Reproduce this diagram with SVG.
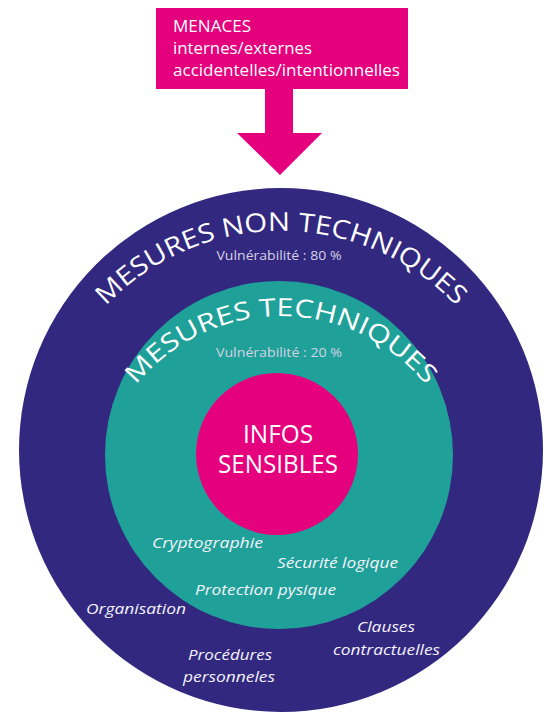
<svg xmlns="http://www.w3.org/2000/svg" xmlns:xlink="http://www.w3.org/1999/xlink" width="551" height="715" viewBox="0 0 551 715">
<style>
.arc{font-family:"Open Sans","Liberation Sans",sans-serif;fill:#ffffff;font-weight:500;}
.vul{font-family:"Open Sans","Liberation Sans",sans-serif;font-size:12px;fill:#d6d2e4;text-anchor:middle;}
.lbl{font-family:"Open Sans","Liberation Sans",sans-serif;font-style:italic;font-size:15px;fill:#f4f2fa;}
.hdr{font-family:"Open Sans","Liberation Sans",sans-serif;font-size:16px;fill:#ffffff;}
.core{font-family:"Open Sans","Liberation Sans",sans-serif;font-size:26px;fill:#ffffff;text-anchor:middle;}
</style>
<defs>
<path id="arcOuter" d="M 47.2 410.4 A 242 242 0 0 1 514.8 410.4"/>
<path id="arcInner" d="M 100.4 454.6 A 187 187 0 0 1 461.6 454.6"/>
</defs>
<rect width="551" height="715" fill="#ffffff"/>
<g id="outer">
<circle cx="281" cy="450" r="262" fill="#32287F"/>
<text class="arc" font-size="26"><textPath xlink:href="#arcOuter" startOffset="50%" text-anchor="middle" textLength="392" lengthAdjust="spacingAndGlyphs">MESURES NON TECHNIQUES</textPath></text>
<text class="vul" x="279" y="260" textLength="125" lengthAdjust="spacingAndGlyphs">Vulnérabilité : 80 %</text>
<text class="lbl" x="86" y="614" textLength="100" lengthAdjust="spacingAndGlyphs">Organisation</text>
<text class="lbl" x="188" y="660" textLength="84" lengthAdjust="spacingAndGlyphs">Procédures</text>
<text class="lbl" x="183" y="682" textLength="92" lengthAdjust="spacingAndGlyphs">personneles</text>
<text class="lbl" x="357" y="632" textLength="58" lengthAdjust="spacingAndGlyphs">Clauses</text>
<text class="lbl" x="333" y="655" textLength="107" lengthAdjust="spacingAndGlyphs">contractuelles</text>
</g>
<g id="technical">
<circle cx="279" cy="455" r="174" fill="#1FA199"/>
<text class="arc" font-size="25"><textPath xlink:href="#arcInner" startOffset="50%" text-anchor="middle" textLength="332" lengthAdjust="spacingAndGlyphs">MESURES TECHNIQUES</textPath></text>
<text class="vul" x="279" y="357" textLength="126" lengthAdjust="spacingAndGlyphs">Vulnérabilité : 20 %</text>
<text class="lbl" x="152" y="548" textLength="111" lengthAdjust="spacingAndGlyphs">Cryptographie</text>
<text class="lbl" x="277" y="568" textLength="121" lengthAdjust="spacingAndGlyphs">Sécurité logique</text>
<text class="lbl" x="195" y="595" textLength="141" lengthAdjust="spacingAndGlyphs">Protection pysique</text>
</g>
<g id="core">
<circle cx="277" cy="454" r="81" fill="#E5007D"/>
<text class="core" x="278" y="443" textLength="70" lengthAdjust="spacingAndGlyphs">INFOS</text>
<text class="core" x="278" y="473" textLength="120" lengthAdjust="spacingAndGlyphs">SENSIBLES</text>
</g>
<g id="threats">
<rect x="156" y="8" width="252" height="81" fill="#E5007D"/>
<text class="hdr" x="173" y="32" textLength="78" lengthAdjust="spacingAndGlyphs">MENACES</text>
<text class="hdr" x="173" y="54" textLength="139" lengthAdjust="spacingAndGlyphs">internes/externes</text>
<text class="hdr" x="173" y="76" textLength="227" lengthAdjust="spacingAndGlyphs">accidentelles/intentionnelles</text>
</g>
<g id="connectors">
<path d="M 265 88 L 293 88 L 293 133 L 322 133 L 280 175 L 237 133 L 265 133 Z" fill="#E5007D"/>
</g>
</svg>
